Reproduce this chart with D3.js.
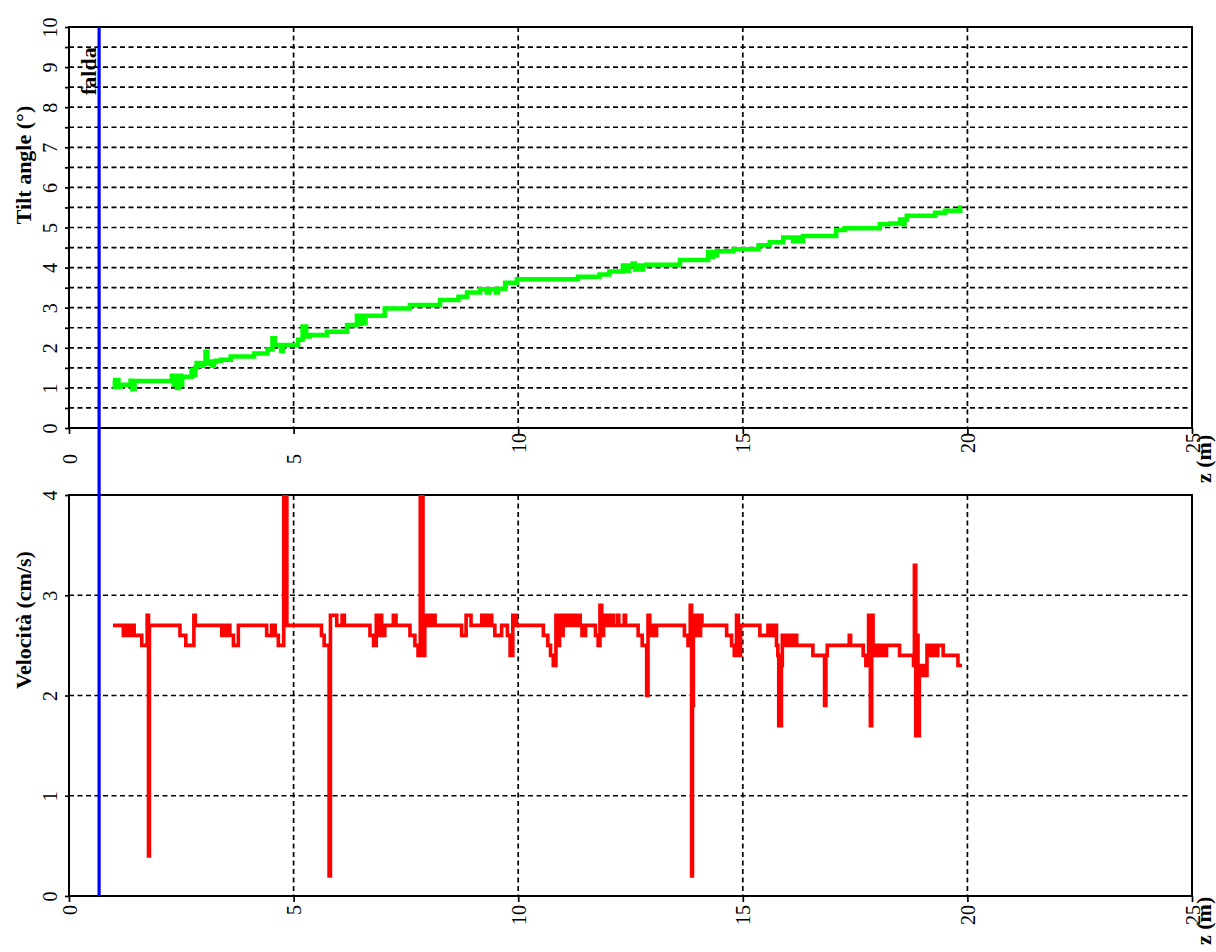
<!DOCTYPE html>
<html>
<head>
<meta charset="utf-8">
<script src="https://cdn.jsdelivr.net/npm/d3@7"></script>
<style>
  body { margin: 0; background: #fff; }
  svg text { font-family: 'Liberation Serif', 'Times New Roman', serif; fill: #000; }
</style>
</head>
<body>
<svg></svg>
<script>
// --- data ---
let zTicks = [0, 5, 10, 15, 20, 25]
let zGrid = [5, 10, 15, 20]
let tiltTicks = [0, 0.5, 1, 1.5, 2, 2.5, 3, 3.5, 4, 4.5, 5, 5.5, 6, 6.5, 7, 7.5, 8, 8.5, 9, 9.5, 10]
let tiltLabels = [0, 1, 2, 3, 4, 5, 6, 7, 8, 9, 10]
let tiltGrid = [0.5, 1, 1.5, 2, 2.5, 3, 3.5, 4, 4.5, 5, 5.5, 6, 6.5, 7, 7.5, 8, 8.5, 9, 9.5]
let velTicks = [0, 1, 2, 3, 4]
let velGrid = [1, 2, 3]
let faldaZ = 0.67

// tilt angle (deg) vs z (m), step data
let tilt = [
  [0.98, 1.2], [1.02, 1.02], [1.06, 1.2], [1.10, 1.03], [1.15, 1.08], [1.37, 1.18], [1.41, 0.97], [1.46, 1.17],
  [2.29, 1.3], [2.33, 1.08], [2.37, 1.3], [2.41, 1.0], [2.45, 1.3], [2.50, 1.08], [2.52, 1.28],
  [2.73, 1.45], [2.78, 1.32], [2.81, 1.5], [2.84, 1.62], [2.92, 1.55], [2.99, 1.62], [3.04, 1.9], [3.08, 1.6],
  [3.13, 1.66], [3.18, 1.55], [3.23, 1.65], [3.27, 1.68], [3.38, 1.7], [3.6, 1.78], [4.12, 1.86], [4.42, 1.96],
  [4.53, 2.24], [4.58, 2.07], [4.72, 1.92], [4.76, 2.07], [5.1, 2.2], [5.2, 2.53], [5.28, 2.28], [5.36, 2.32],
  [5.74, 2.4], [6.19, 2.57], [6.41, 2.8], [6.46, 2.6], [6.51, 2.8], [6.56, 2.62], [6.6, 2.8],
  [7.03, 2.98], [7.59, 3.07], [8.26, 3.19], [8.67, 3.27], [8.86, 3.38], [9.15, 3.46], [9.3, 3.38], [9.36, 3.46],
  [9.5, 3.38], [9.55, 3.47], [9.71, 3.62], [9.97, 3.71], [11.33, 3.77], [11.81, 3.83], [12.03, 3.9],
  [12.33, 4.05], [12.4, 3.92], [12.46, 4.05], [12.55, 4.1], [12.6, 3.95], [12.66, 4.05], [12.72, 3.95], [12.78, 4.05],
  [12.85, 4.07], [13.6, 4.19], [14.23, 4.39], [14.28, 4.27], [14.33, 4.39], [14.38, 4.3], [14.42, 4.41],
  [14.79, 4.46], [15.35, 4.56], [15.6, 4.63], [15.9, 4.75], [16.12, 4.66], [16.2, 4.75], [16.26, 4.66], [16.34, 4.79],
  [17.08, 4.94], [17.27, 4.98], [18.05, 5.08], [18.27, 5.1], [18.5, 5.2], [18.56, 5.08], [18.6, 5.2],
  [18.65, 5.29], [19.28, 5.37], [19.5, 5.42], [19.84, 5.5], [19.88, 5.5]
]

// velocity (cm/s) vs z (m), step data
let vel = [
  [0.98, 2.7], [1.21, 2.6], [1.25, 2.7], [1.29, 2.6], [1.33, 2.7], [1.37, 2.6], [1.41, 2.7], [1.45, 2.6],
  [1.62, 2.5], [1.74, 2.8], [1.77, 0.4], [1.79, 2.7],
  [2.47, 2.6], [2.6, 2.5], [2.78, 2.8], [2.81, 2.7],
  [3.40, 2.6], [3.45, 2.7], [3.50, 2.6], [3.55, 2.7], [3.58, 2.6], [3.66, 2.5], [3.77, 2.7],
  [4.40, 2.6], [4.51, 2.7], [4.59, 2.6], [4.66, 2.5], [4.78, 4.4], [4.85, 2.7],
  [5.62, 2.6], [5.68, 2.5], [5.79, 0.2], [5.82, 2.8], [5.96, 2.7], [6.08, 2.8], [6.13, 2.7],
  [6.70, 2.6], [6.78, 2.5], [6.84, 2.8], [6.88, 2.6], [6.92, 2.8], [6.96, 2.6], [7.03, 2.7],
  [7.22, 2.8], [7.28, 2.7], [7.59, 2.6], [7.70, 2.5], [7.77, 2.4], [7.82, 4.4], [7.88, 2.4],
  [7.92, 2.8], [7.97, 2.7], [8.01, 2.8], [8.06, 2.7], [8.10, 2.8], [8.15, 2.7],
  [8.74, 2.6], [8.84, 2.8], [8.95, 2.7],
  [9.19, 2.8], [9.25, 2.7], [9.30, 2.8], [9.36, 2.7], [9.38, 2.8], [9.41, 2.7],
  [9.48, 2.6], [9.63, 2.7], [9.76, 2.6], [9.82, 2.4], [9.88, 2.8], [9.96, 2.7],
  [10.56, 2.6], [10.66, 2.5], [10.72, 2.4], [10.78, 2.3], [10.84, 2.8], [10.88, 2.5], [10.92, 2.8], [10.96, 2.6],
  [11.00, 2.8], [11.04, 2.7], [11.08, 2.8], [11.12, 2.7], [11.16, 2.8], [11.20, 2.7], [11.24, 2.8], [11.28, 2.7],
  [11.32, 2.8], [11.38, 2.7], [11.42, 2.6], [11.50, 2.7],
  [11.72, 2.6], [11.78, 2.5], [11.82, 2.9], [11.86, 2.6], [11.90, 2.7],
  [11.92, 2.8], [11.96, 2.7], [12.00, 2.8], [12.04, 2.7], [12.08, 2.8], [12.12, 2.7],
  [12.21, 2.8], [12.24, 2.7], [12.36, 2.8], [12.39, 2.7],
  [12.67, 2.6], [12.76, 2.5], [12.86, 2.0], [12.89, 2.8], [12.93, 2.6], [12.97, 2.7], [13.01, 2.6], [13.08, 2.7],
  [13.70, 2.6], [13.78, 2.5], [13.83, 2.9], [13.86, 0.2], [13.88, 1.9], [13.90, 2.8], [13.94, 2.6], [13.98, 2.8],
  [14.02, 2.6], [14.06, 2.8], [14.09, 2.7],
  [14.64, 2.6], [14.75, 2.5], [14.81, 2.4], [14.86, 2.8], [14.90, 2.4], [14.95, 2.7],
  [15.38, 2.6], [15.56, 2.7], [15.60, 2.6], [15.64, 2.7], [15.68, 2.6], [15.72, 2.7], [15.75, 2.5],
  [15.78, 2.4], [15.80, 1.7], [15.86, 2.3], [15.88, 2.6], [15.92, 2.5], [15.96, 2.6], [16.00, 2.5],
  [16.04, 2.6], [16.08, 2.5], [16.12, 2.6], [16.20, 2.5],
  [16.56, 2.4], [16.82, 1.9], [16.85, 2.4], [16.88, 2.5], [17.37, 2.6], [17.40, 2.5],
  [17.68, 2.4], [17.74, 2.3], [17.80, 2.8], [17.84, 1.7], [17.87, 2.8], [17.90, 2.4], [17.94, 2.5], [17.98, 2.4],
  [18.02, 2.5], [18.06, 2.4], [18.10, 2.5], [18.14, 2.4], [18.20, 2.5],
  [18.49, 2.4], [18.80, 2.3], [18.82, 3.3], [18.85, 1.6], [18.88, 2.6], [18.90, 1.6], [18.93, 2.3],
  [18.97, 2.2], [19.02, 2.3], [19.06, 2.2], [19.10, 2.5], [19.14, 2.4], [19.18, 2.5], [19.22, 2.4],
  [19.26, 2.5], [19.30, 2.4], [19.34, 2.5], [19.46, 2.4], [19.79, 2.3], [19.88, 2.3]
]

// --- layout ---
let width = 1216
let height = 952
let left = 69
let right = 1192
let topPanel = { top: 27, bottom: 428 }
let botPanel = { top: 495, bottom: 896 }

let svg = d3.select('svg').attr('width', width).attr('height', height)

let xScale = d3.scaleLinear().domain([0, 25]).range([left, right])
let yTilt = d3.scaleLinear().domain([0, 10]).range([topPanel.bottom, topPanel.top])
let yVel = d3.scaleLinear().domain([0, 4]).range([botPanel.bottom, botPanel.top])

let drawPanel = (id, panel, yScale, yTicks, yLabels, yGrid, title, titleY, xLabelEnd, zLabelY) => {
  let g = svg.append('g').attr('id', id)

  // clip
  svg.append('clipPath').attr('id', 'clip-' + id)
    .append('rect')
    .attr('x', left).attr('y', panel.top)
    .attr('width', right - left).attr('height', panel.bottom - panel.top)

  // grid
  g.selectAll('.hgrid').data(yGrid).enter().append('line')
    .attr('x1', left).attr('x2', right)
    .attr('y1', (d) => yScale(d)).attr('y2', (d) => yScale(d))
    .attr('stroke', '#000').attr('stroke-width', 1.7).attr('stroke-dasharray', '5,3.5')
  g.selectAll('.vgrid').data(zGrid).enter().append('line')
    .attr('x1', (d) => xScale(d)).attr('x2', (d) => xScale(d))
    .attr('y1', panel.top).attr('y2', panel.bottom)
    .attr('stroke', '#000').attr('stroke-width', 1.7).attr('stroke-dasharray', '5,3.5')

  // y axis
  let yAxis = d3.axisLeft(yScale).tickValues(yTicks).tickSizeInner(4).tickSizeOuter(0)
    .tickFormat((d) => yLabels.includes(d) ? d3.format('d')(d) : '')
  let ya = g.append('g').attr('transform', 'translate(' + left + ',0)').call(yAxis)
  ya.select('.domain').remove()
  ya.selectAll('line').attr('stroke-width', 1.7)
  ya.selectAll('text')
    .attr('x', null).attr('dy', null)
    .attr('transform', 'translate(-12,0) rotate(-90)')
    .attr('text-anchor', 'middle')
    .style('font-size', '20px')

  // x axis
  let xAxis = d3.axisBottom(xScale).tickValues(zTicks).tickSizeInner(6).tickSizeOuter(0).tickFormat(d3.format('d'))
  let xa = g.append('g').attr('transform', 'translate(0,' + panel.bottom + ')').call(xAxis)
  xa.select('.domain').remove()
  xa.selectAll('line').attr('stroke-width', 1.7)
  xa.selectAll('text')
    .attr('y', null).attr('dy', null)
    .attr('transform', (d) => 'translate(7,' + xLabelEnd(d) + ') rotate(-90)')
    .attr('text-anchor', 'end')
    .style('font-size', '20px')

  // frame
  g.append('rect')
    .attr('x', left).attr('y', panel.top)
    .attr('width', right - left).attr('height', panel.bottom - panel.top)
    .attr('fill', 'none').attr('stroke', '#000').attr('stroke-width', 2)

  // titles
  g.append('text')
    .attr('transform', 'translate(31,' + titleY + ') rotate(-90)')
    .attr('text-anchor', 'middle')
    .style('font-size', '22px').style('font-weight', 'bold')
    .text(title)

  g.append('text')
    .attr('transform', 'translate(1211,' + zLabelY + ') rotate(-90)')
    .attr('text-anchor', 'start')
    .style('font-size', '22px').style('font-weight', 'bold')
    .text('z (m)')

  return g
}

let gTop = drawPanel('tilt', topPanel, yTilt, tiltTicks, tiltLabels, tiltGrid, 'Tilt angle (°)', 165,
  (d) => String(d).length === 1 ? 26 : 5, 483)
let gBot = drawPanel('vel', botPanel, yVel, velTicks, velTicks, velGrid, 'Velocità (cm/s)', 620,
  (d) => 9, 945)

// series
let tiltLine = d3.line().x((d) => xScale(d[0])).y((d) => yTilt(d[1])).curve(d3.curveStepAfter)
let velLine = d3.line().x((d) => xScale(d[0])).y((d) => yVel(d[1])).curve(d3.curveStepAfter)

gTop.append('path')
  .datum(tilt)
  .attr('clip-path', 'url(#clip-tilt)')
  .attr('d', tiltLine)
  .attr('fill', 'none').attr('stroke', '#00ff00').attr('stroke-width', 4.5)
  .attr('stroke-linejoin', 'miter')

gBot.append('path')
  .datum(vel)
  .attr('clip-path', 'url(#clip-vel)')
  .attr('d', velLine)
  .attr('fill', 'none').attr('stroke', '#ff0000').attr('stroke-width', 3.6)
  .attr('stroke-linejoin', 'miter')

// water table (falda) marker
svg.append('line')
  .attr('x1', xScale(faldaZ)).attr('x2', xScale(faldaZ))
  .attr('y1', topPanel.top).attr('y2', botPanel.bottom)
  .attr('stroke', '#0000ff').attr('stroke-width', 3.2)

svg.append('text')
  .attr('transform', 'translate(' + (xScale(faldaZ) - 3) + ',95) rotate(-90)')
  .attr('text-anchor', 'start')
  .style('font-size', '22px').style('font-weight', 'bold')
  .text('falda')
</script>
</body>
</html>
